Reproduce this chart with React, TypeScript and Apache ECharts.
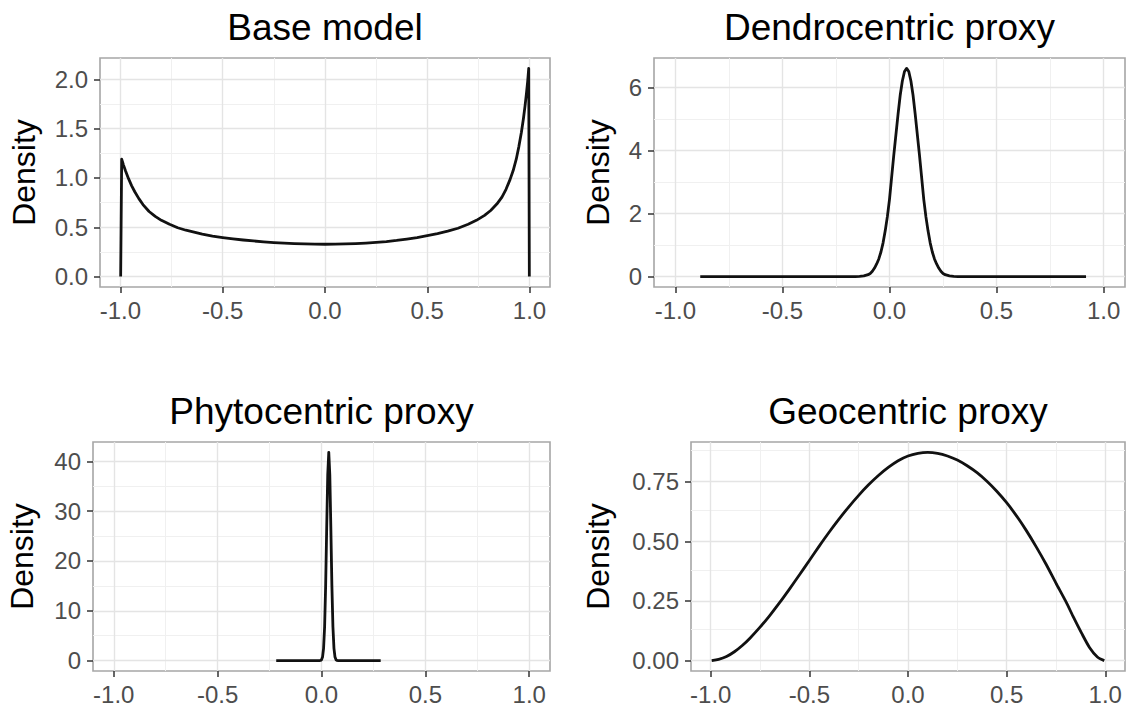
import React, { useEffect, useRef } from "react";
import * as echarts from "echarts";

const panelTitles = ["Base model", "Dendrocentric proxy", "Phytocentric proxy", "Geocentric proxy"];
const yAxisTitle = "Density";

const xTicks = [-1, -0.5, 0, 0.5, 1];
const xMinor = [-0.75, -0.25, 0.25, 0.75];

// Base model
const baseX = [-0.999, -0.994, -0.985, -0.975, -0.96, -0.945, -0.93, -0.91, -0.89, -0.86, -0.83, -0.8, -0.76, -0.72, -0.68, -0.64, -0.6, -0.55, -0.5, -0.45, -0.4, -0.35, -0.3, -0.25, -0.2, -0.15, -0.1, -0.05, 0, 0.05, 0.1, 0.15, 0.2, 0.25, 0.3, 0.35, 0.4, 0.45, 0.5, 0.55, 0.6, 0.65, 0.7, 0.74, 0.78, 0.81, 0.84, 0.865, 0.885, 0.905, 0.92, 0.935, 0.948, 0.96, 0.97, 0.978, 0.985, 0.991, 0.996, 0.999];
const baseY = [0, 1.19, 1.13, 1.07, 0.99, 0.92, 0.86, 0.79, 0.73, 0.66, 0.61, 0.57, 0.53, 0.495, 0.47, 0.45, 0.43, 0.41, 0.395, 0.382, 0.371, 0.361, 0.352, 0.345, 0.34, 0.335, 0.331, 0.329, 0.328, 0.329, 0.331, 0.335, 0.34, 0.347, 0.355, 0.366, 0.38, 0.396, 0.415, 0.436, 0.46, 0.49, 0.53, 0.57, 0.62, 0.67, 0.735, 0.805, 0.885, 0.985, 1.075, 1.19, 1.32, 1.46, 1.6, 1.73, 1.86, 1.98, 2.11, 0];
const baseYTicks = [0, 0.5, 1, 1.5, 2];
const baseYMinor = [0.25, 0.75, 1.25, 1.75];

// Dendrocentric proxy
const dendroX = [-0.884, -0.4, -0.2, -0.16, -0.14, -0.12, -0.1, -0.09, -0.08, -0.07, -0.06, -0.05, -0.04, -0.03, -0.02, -0.01, 0, 0.01, 0.02, 0.03, 0.04, 0.05, 0.06, 0.07, 0.08, 0.09, 0.1, 0.11, 0.12, 0.13, 0.14, 0.15, 0.16, 0.17, 0.18, 0.19, 0.2, 0.21, 0.22, 0.23, 0.24, 0.25, 0.26, 0.28, 0.3, 0.32, 0.36, 0.6, 0.918];
const dendroY = [0, 0, 0, 0.002, 0.007, 0.02, 0.06, 0.1, 0.17, 0.27, 0.4, 0.56, 0.78, 1.07, 1.45, 1.9, 2.45, 3.15, 3.85, 4.5, 5.15, 5.75, 6.2, 6.5, 6.6, 6.5, 6.2, 5.75, 5.15, 4.5, 3.85, 3.15, 2.45, 1.9, 1.45, 1.07, 0.78, 0.56, 0.4, 0.27, 0.17, 0.1, 0.06, 0.02, 0.007, 0.002, 0, 0, 0];
const dendroYTicks = [0, 2, 4, 6];
const dendroYMinor = [1, 3, 5];

// Phytocentric proxy
const phytoX = [-0.218, -0.1, -0.01, -0.005, 0, 0.005, 0.01, 0.015, 0.02, 0.025, 0.03, 0.035, 0.04, 0.045, 0.05, 0.055, 0.06, 0.065, 0.07, 0.075, 0.08, 0.15, 0.285];
const phytoY = [0, 0, 0, 0.03, 0.16, 0.71, 2.46, 6.8, 15.1, 26.6, 37.3, 41.8, 37.3, 26.6, 15.1, 6.8, 2.46, 0.71, 0.16, 0.03, 0, 0, 0];
const phytoYTicks = [0, 10, 20, 30, 40];
const phytoYMinor = [5, 15, 25, 35];

// Geocentric proxy
const geoX = [-0.995, -0.96, -0.92, -0.88, -0.84, -0.8, -0.75, -0.7, -0.65, -0.6, -0.55, -0.5, -0.45, -0.4, -0.35, -0.3, -0.25, -0.2, -0.15, -0.1, -0.05, 0, 0.05, 0.1, 0.15, 0.2, 0.25, 0.3, 0.35, 0.4, 0.45, 0.5, 0.55, 0.6, 0.65, 0.7, 0.75, 0.8, 0.84, 0.88, 0.92, 0.96, 0.995];
const geoY = [0, 0.005, 0.017, 0.037, 0.063, 0.095, 0.14, 0.19, 0.244, 0.301, 0.36, 0.42, 0.48, 0.538, 0.593, 0.645, 0.693, 0.737, 0.776, 0.81, 0.838, 0.858, 0.869, 0.873, 0.869, 0.858, 0.841, 0.817, 0.788, 0.752, 0.71, 0.662, 0.607, 0.545, 0.477, 0.404, 0.325, 0.248, 0.18, 0.115, 0.055, 0.015, 0];
const geoYTicks = [0, 0.25, 0.5, 0.75];
const geoYMinor = [0.125, 0.375, 0.625, 0.875];

const FONT = "Liberation Sans, Arial, Helvetica, sans-serif";

const layout = [
  { left: 100, top: 58, width: 450, height: 229, titleX: 325, titleY: 27, nameGap: 60, smooth: false },
  { left: 654, top: 58, width: 471, height: 229, titleX: 889.5, titleY: 27, nameGap: 40, smooth: false },
  { left: 93, top: 442, width: 457, height: 229, titleX: 321.5, titleY: 411, nameGap: 55, smooth: false },
  { left: 691, top: 442, width: 434, height: 229, titleX: 908, titleY: 411, nameGap: 77, smooth: 0.25 },
];

const panels = [
  { xs: baseX, ys: baseY, yTicks: baseYTicks, yMinor: baseYMinor, dec: 1 },
  { xs: dendroX, ys: dendroY, yTicks: dendroYTicks, yMinor: dendroYMinor, dec: 0 },
  { xs: phytoX, ys: phytoY, yTicks: phytoYTicks, yMinor: phytoYMinor, dec: 0 },
  { xs: geoX, ys: geoY, yTicks: geoYTicks, yMinor: geoYMinor, dec: 2 },
];

export default function App() {
  const ref = useRef<HTMLDivElement>(null);
  useEffect(() => {
    document.body.style.margin = "0";
    if (!ref.current) return;
    const chart = echarts.init(ref.current, undefined, { renderer: "svg" });

    const grids: any[] = [];
    const xAxes: any[] = [];
    const yAxes: any[] = [];
    const series: any[] = [];
    const graphics: any[] = [];

    panels.forEach((p, i) => {
      const L = layout[i];
      const ymax = Math.max(...p.ys);
      const ymin = Math.min(...p.ys);
      const span = ymax - ymin;
      grids.push({
        left: L.left, top: L.top, width: L.width, height: L.height,
        show: true, borderColor: "#A6A6A6", borderWidth: 1.6, backgroundColor: "#FFFFFF",
      });
      xAxes.push({
        gridIndex: i, type: "value", min: -1.1, max: 1.1,
        axisLine: { show: false, onZero: false },
        axisTick: { show: true, length: 6, lineStyle: { color: "#333333", width: 1.5 }, customValues: xTicks },
        axisLabel: {
          customValues: xTicks, formatter: (v: number) => v.toFixed(1),
          color: "#4D4D4D", fontSize: 24, fontFamily: FONT, margin: 11,
        },
        splitLine: { show: false },
      });
      yAxes.push({
        gridIndex: i, type: "value", min: ymin - 0.05 * span, max: ymax + 0.05 * span,
        name: yAxisTitle, nameLocation: "middle", nameRotate: 90, nameGap: L.nameGap,
        nameTextStyle: { fontSize: 32, fontFamily: FONT, color: "#000000" },
        axisLine: { show: false, onZero: false },
        axisTick: { show: true, length: 6, lineStyle: { color: "#333333", width: 1.5 }, customValues: p.yTicks },
        axisLabel: {
          customValues: p.yTicks, formatter: (v: number) => v.toFixed(p.dec),
          color: "#4D4D4D", fontSize: 24, fontFamily: FONT, margin: 12,
        },
        splitLine: { show: false },
      });
      const data = p.xs.map((x, k) => [x, p.ys[k]]);
      const major = { color: "#E4E4E4", width: 1.4, type: "solid" };
      const minor = { color: "#F0F0F0", width: 1, type: "solid" };
      series.push({
        type: "line", xAxisIndex: i, yAxisIndex: i, data, symbol: "none", silent: true, z: 1,
        lineStyle: { opacity: 0, width: 0 },
        markLine: {
          silent: true, symbol: ["none", "none"], label: { show: false }, z: 1, animation: false,
          emphasis: { disabled: true },
          data: [
            ...xMinor.map((v) => ({ xAxis: v, lineStyle: minor })),
            ...p.yMinor.map((v) => ({ yAxis: v, lineStyle: minor })),
            ...xTicks.map((v) => ({ xAxis: v, lineStyle: major })),
            ...p.yTicks.map((v) => ({ yAxis: v, lineStyle: major })),
          ],
        },
      });
      series.push({
        type: "line", xAxisIndex: i, yAxisIndex: i, data, symbol: "none", showSymbol: false,
        smooth: L.smooth,
        silent: true, z: 3, lineStyle: { color: "#111111", width: 2.8, join: "round" },
      });
      graphics.push({
        type: "text", x: L.titleX, y: L.titleY, silent: true,
        style: { text: panelTitles[i], fontSize: 37, fontFamily: FONT, fill: "#000000", align: "center", verticalAlign: "middle" },
      });
    });

    chart.setOption({
      animation: false,
      backgroundColor: "#FFFFFF",
      grid: grids,
      xAxis: xAxes,
      yAxis: yAxes,
      series,
      graphic: graphics,
    });
    return () => chart.dispose();
  }, []);
  return <div ref={ref} style={{ width: 1128, height: 706 }} />;
}
